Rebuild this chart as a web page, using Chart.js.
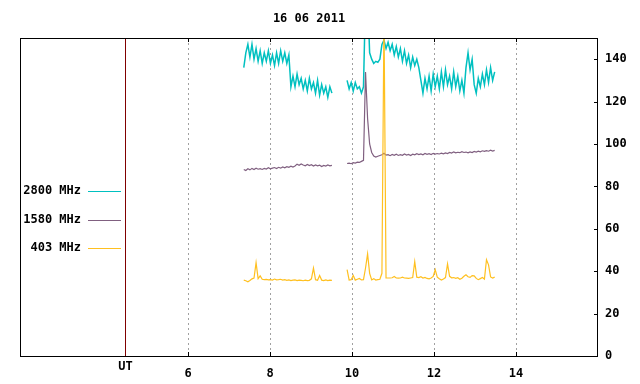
<!DOCTYPE html>
<html>
<head>
<meta charset="utf-8">
<script src="https://cdn.jsdelivr.net/npm/chart.js@4/dist/chart.umd.min.js"></script>
<style>
  html, body { margin: 0; padding: 0; background: #fff; }
  #wrap { width: 640px; height: 384px; }
</style>
</head>
<body>
<div id="wrap"><canvas id="c" width="640" height="384"></canvas></div>
<script>
// ===== Solar radio flux, 16 06 2011 =====
const TITLE = '16 06 2011';
const X_TICKS = [6, 8, 10, 12, 14];
const Y_TICKS = [0, 20, 40, 60, 80, 100, 120, 140];
const UT_HOUR = 4.46;

// two recording segments, sampled every DT hours
const SEG1_START = 7.36, SEG2_START = 9.88, DT = 0.05;

const f2800_a = [136, 143, 147, 141, 147, 140, 145, 139, 144, 138, 143, 139, 144, 138, 142, 137, 143, 138, 144, 139, 143, 138, 142,
    127, 132, 127, 133, 128, 131, 126, 130, 125, 131, 126, 129, 124, 130, 123, 128, 124, 127, 122, 127, 124];
const f2800_b = [130, 126, 129, 125, 129, 126, 127, 124,
    127, 170, 170, 143, 140, 138, 139, 138.5, 140,
    147, 149, 145, 148, 144, 147, 142, 146, 141, 145, 139, 144, 138, 142, 136, 141, 137, 140, 136,
    130, 124, 131, 126, 132, 125, 133, 127, 132, 126, 134, 127, 135, 128, 132, 126, 134, 127, 132, 125, 130, 124,
    136, 143, 135, 140, 128, 124, 131, 127, 133, 128, 135, 129, 136, 130, 134];

const f1580_a = [88.0, 87.5, 88.3, 87.8, 88.5, 88.0, 88.6, 88.1, 88.4, 88.0, 88.5, 88.2, 88.8, 88.3, 88.6, 88.9, 88.4, 89.0, 88.6, 89.2,
    88.8, 89.3, 89.0, 89.5, 89.1, 89.6, 90.5, 90.0, 90.6, 90.1, 89.7, 90.3, 89.8, 90.2, 89.6, 90.1, 89.7, 90.0, 89.4, 89.9,
    89.6, 90.1, 89.7, 89.9];
const f1580_b = [90.8, 91.0, 90.7, 91.2, 91.0, 91.4, 91.3, 91.8, 92.3,
    134, 112, 100, 96, 94.3, 93.8,
    94.2, 94.6, 94.9, 95.6, 94.8, 95.0, 94.5, 95.1, 94.7, 95.2, 94.6, 95.0, 94.7, 95.3, 94.8, 95.1, 94.6, 95.2, 94.9, 95.4,
    95.0, 95.3, 94.9, 95.5, 95.1, 95.4, 95.0, 95.6, 95.2, 95.5, 95.3, 95.7, 95.4, 95.8, 95.5, 96.0, 95.7, 96.3, 95.8, 96.1,
    95.9, 96.4, 96.0, 96.2, 95.8, 96.3, 96.0, 96.5, 96.2, 96.6, 96.3, 96.8, 96.5, 96.9, 96.6, 97.1, 96.7, 97.0];

const f403_a = [35.8, 35.5, 35.0, 35.6, 36.4, 36.8, 44, 36.5, 37.8, 36.2, 36.0, 36.1, 35.9, 36.0, 35.8, 36.3, 35.9, 36.0, 36.2, 35.8,
    36.0, 35.7, 35.9, 35.6, 35.8, 35.9, 35.6, 35.8, 35.7, 35.5, 35.8, 35.6, 35.7, 36.4, 41.5, 36.0, 35.7, 38.0, 35.8, 35.6,
    35.9, 35.6, 35.8, 35.7];
const f403_b = [40.7, 35.8, 36.0, 38.0, 35.8, 36.2, 36.6, 35.9, 36.0, 41.5, 48.2, 39.0, 35.9, 36.5, 35.8, 36.0, 36.2, 39.0, 160, 36.8,
    36.8, 36.8, 36.9, 37.5, 36.8, 36.7, 36.8, 37.2, 36.8, 36.7, 36.6, 36.8, 37.0, 44.5, 37.2, 37.0, 37.4, 36.8, 37.1, 36.6,
    36.4, 36.8, 37.5, 40.7, 37.2, 36.4, 35.8, 36.3, 37.0, 43.5, 37.6, 36.9, 37.0, 36.6, 36.9, 36.2, 36.7, 37.6, 38.3, 37.4,
    37.1, 37.9, 37.8, 36.6, 36.0, 36.5, 37.0, 36.3, 45.4, 43.0, 37.3, 36.8, 37.2];

const SERIES = [
    { label: '2800 MHz', color: '#00c0c0', a: f2800_a, b: f2800_b, width: 1.5 },
    { label: '1580 MHz', color: '#806080', a: f1580_a, b: f1580_b, width: 1.2 },
    { label: '403 MHz',  color: '#ffc020', a: f403_a,  b: f403_b,  width: 1.2 }
];

const FONT = 'bold 12px "DejaVu Sans Mono", "Liberation Mono", monospace';

function toPoints(a, b) {
    const pts = a.map((v, i) => ({ x: SEG1_START + i * DT, y: v }));
    pts.push({ x: (SEG1_START + a.length * DT + SEG2_START) / 2, y: null });
    return pts.concat(b.map((v, i) => ({ x: SEG2_START + i * DT, y: v })));
}

// frame, inward ticks, UT marker, title and the key
const decor = {
    id: 'decor',
    afterDatasetsDraw(chart) {
        const { ctx, chartArea: ca, scales: { x, y } } = chart;
        ctx.save();
        ctx.lineWidth = 1;
        const ux = Math.round(x.getPixelForValue(UT_HOUR)) + 0.5;
        ctx.strokeStyle = '#800000';
        ctx.beginPath(); ctx.moveTo(ux, ca.top); ctx.lineTo(ux, ca.bottom); ctx.stroke();

        ctx.strokeStyle = '#000';
        ctx.strokeRect(ca.left + 0.5, ca.top + 0.5, ca.right - ca.left - 1, ca.bottom - ca.top);
        ctx.beginPath();
        X_TICKS.forEach(t => {
            const px = Math.round(x.getPixelForValue(t)) + 0.5;
            ctx.moveTo(px, ca.bottom); ctx.lineTo(px, ca.bottom - 4);
            ctx.moveTo(px, ca.top); ctx.lineTo(px, ca.top + 4);
        });
        Y_TICKS.slice(1).forEach(t => {
            const py = Math.round(y.getPixelForValue(t)) + 0.5;
            ctx.moveTo(ca.right - 1, py); ctx.lineTo(ca.right - 4, py);
        });
        ctx.stroke();

        ctx.font = FONT;
        ctx.fillStyle = '#000';
        ctx.textBaseline = 'middle';
        ctx.textAlign = 'center';
        ctx.fillText(TITLE, (ca.left + ca.right) / 2, 19);
        ctx.fillText('UT', ux, 367);

        const rows = [191, 219.5, 248];
        SERIES.forEach((s, i) => {
            ctx.textAlign = 'right';
            ctx.fillStyle = '#000';
            ctx.fillText(s.label, 81, rows[i]);
            const ly = Math.round(rows[i]) + 0.5;
            ctx.strokeStyle = s.color;
            ctx.beginPath(); ctx.moveTo(88, ly); ctx.lineTo(121, ly); ctx.stroke();
        });
        ctx.restore();
    }
};

new Chart(document.getElementById('c').getContext('2d'), {
    type: 'line',
    data: {
        datasets: SERIES.map((s, i) => ({
            label: s.label,
            data: toPoints(s.a, s.b),
            borderColor: s.color,
            borderWidth: s.width,
            pointRadius: 0,
            tension: 0,
            spanGaps: false,
            fill: false,
            order: SERIES.length - i
        }))
    },
    options: {
        responsive: false,
        animation: false,
        events: [],
        layout: { padding: { left: 20, top: 38, right: 0, bottom: 0 } },
        scales: {
            x: {
                type: 'linear', min: 1.902, max: 16,
                afterBuildTicks: sc => { sc.ticks = X_TICKS.map(v => ({ value: v })); },
                afterFit: sc => { sc.height = 28; },
                grid: { color: '#a0a0a0', lineWidth: 1, drawTicks: false },
                border: { display: false, dash: [2, 3] },
                ticks: { color: '#000', font: { family: '"DejaVu Sans Mono"', size: 12, weight: 'bold' }, padding: 11, maxRotation: 0 }
            },
            y: {
                position: 'right', min: 0, max: 150,
                afterBuildTicks: sc => { sc.ticks = Y_TICKS.map(v => ({ value: v })); },
                afterFit: sc => { sc.width = 42; },
                grid: { display: false, drawTicks: false },
                border: { display: false },
                ticks: { color: '#000', font: { family: '"DejaVu Sans Mono"', size: 12, weight: 'bold' }, padding: 7 }
            }
        },
        plugins: {
            legend: { display: false },
            tooltip: { enabled: false },
            title: { display: false }
        }
    },
    plugins: [decor]
});
</script>
</body>
</html>
